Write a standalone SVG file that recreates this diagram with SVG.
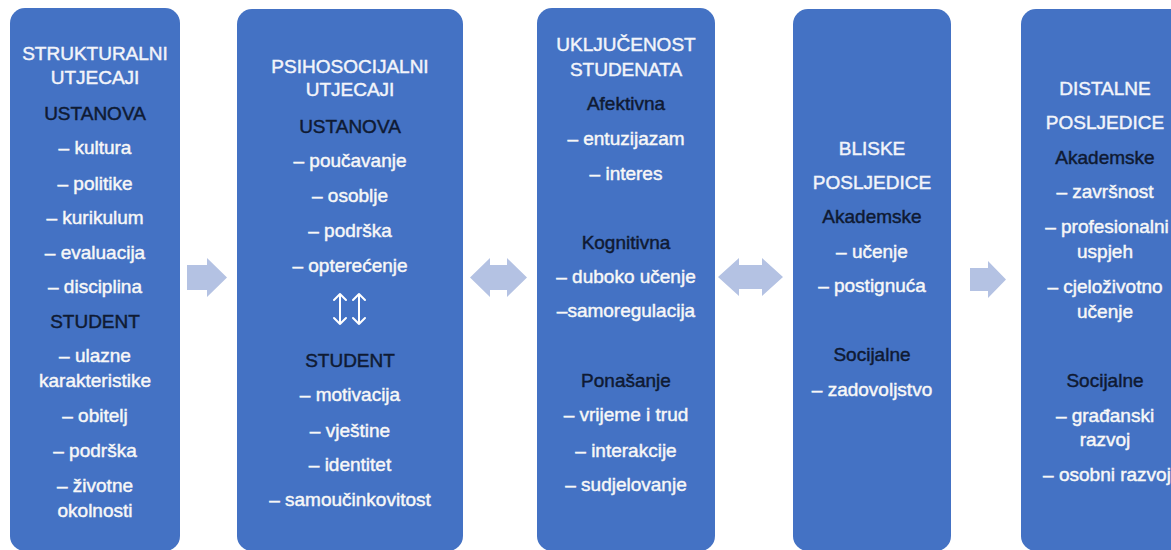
<svg xmlns="http://www.w3.org/2000/svg" width="1171" height="550" viewBox="0 0 1171 550">
<style>
.box{fill:#4472C4}
text{font-family:"Liberation Sans",Arial,sans-serif;font-size:19px;text-anchor:middle;stroke-width:0.45px}
.t{fill:#F2F4FA;stroke:#F2F4FA}
.i{fill:#F7F7F7;stroke:#F7F7F7}
.h{fill:#0F1A33;stroke:#0F1A33}
.ar{fill:#B4C2E3}
.sm{stroke:#FFFFFF;stroke-width:2;fill:none;stroke-linecap:round;stroke-linejoin:round}
</style>
<rect width="1171" height="550" fill="#FFFFFF"/>
<g id="connectors">
<polygon class="ar" points="187,265 207,265 207,258 227,277.5 207,297 207,290 187,290"/>
<polygon class="ar" points="470,277.5 490,258 490,265 507,265 507,258 527,277.5 507,297 507,290 490,290 490,297"/>
<polygon class="ar" points="718,277 739,258 739,265 762,265 762,258 783,277 762,296 762,289 739,289 739,296"/>
<polygon class="ar" points="970,268 988,268 988,261 1006,279.5 988,298 988,291 970,291"/>
</g>
<g id="node1">
<rect class="box" x="10" y="8" width="170" height="543" rx="15"/>
<text class="t" x="95" y="60">STRUKTURALNI</text>
<text class="t" x="95" y="84">UTJECAJI</text>
<text class="h" x="95" y="120">USTANOVA</text>
<text class="i" x="95" y="154">– kultura</text>
<text class="i" x="95" y="190">– politike</text>
<text class="i" x="95" y="224">– kurikulum</text>
<text class="i" x="95" y="259">– evaluacija</text>
<text class="i" x="95" y="293">– disciplina</text>
<text class="h" x="95" y="328">STUDENT</text>
<text class="i" x="95" y="362">– ulazne</text>
<text class="i" x="95" y="387">karakteristike</text>
<text class="i" x="95" y="422">– obitelj</text>
<text class="i" x="95" y="457">– podrška</text>
<text class="i" x="95" y="492">– životne</text>
<text class="i" x="95" y="517">okolnosti</text>
</g>
<g id="node2">
<rect class="box" x="237" y="9" width="226" height="542" rx="15"/>
<text class="t" x="350" y="73">PSIHOSOCIJALNI</text>
<text class="t" x="350" y="96">UTJECAJI</text>
<text class="h" x="350" y="133">USTANOVA</text>
<text class="i" x="350" y="167">– poučavanje</text>
<text class="i" x="350" y="202">– osoblje</text>
<text class="i" x="350" y="237">– podrška</text>
<text class="i" x="350" y="272">– opterećenje</text>
<path class="sm" d="M340,294 V324 M334,300 L340,294 L346,300 M334,318 L340,324 L346,318"/>
<path class="sm" d="M359,294 V324 M353,300 L359,294 L365,300 M353,318 L359,324 L365,318"/>
<text class="h" x="350" y="367">STUDENT</text>
<text class="i" x="350" y="401">– motivacija</text>
<text class="i" x="350" y="437">– vještine</text>
<text class="i" x="350" y="471">– identitet</text>
<text class="i" x="350" y="506">– samoučinkovitost</text>
</g>
<g id="node3">
<rect class="box" x="537" y="8" width="178" height="543" rx="15"/>
<text class="t" x="626" y="51">UKLJUČENOST</text>
<text class="t" x="626" y="76">STUDENATA</text>
<text class="h" x="626" y="110">Afektivna</text>
<text class="i" x="626" y="145">– entuzijazam</text>
<text class="i" x="626" y="180">– interes</text>
<text class="h" x="626" y="249">Kognitivna</text>
<text class="i" x="626" y="283">– duboko učenje</text>
<text class="i" x="626" y="317">–samoregulacija</text>
<text class="h" x="626" y="387">Ponašanje</text>
<text class="i" x="626" y="421">– vrijeme i trud</text>
<text class="i" x="626" y="457">– interakcije</text>
<text class="i" x="626" y="491">– sudjelovanje</text>
</g>
<g id="node4">
<rect class="box" x="793" y="9" width="158" height="542" rx="15"/>
<text class="t" x="872" y="155">BLISKE</text>
<text class="t" x="872" y="189">POSLJEDICE</text>
<text class="h" x="872" y="223">Akademske</text>
<text class="i" x="872" y="258">– učenje</text>
<text class="i" x="872" y="292">– postignuća</text>
<text class="h" x="872" y="361">Socijalne</text>
<text class="i" x="872" y="396">– zadovoljstvo</text>
</g>
<g id="node5">
<rect class="box" x="1021" y="9" width="170" height="542" rx="15"/>
<text class="t" x="1105" y="95">DISTALNE</text>
<text class="t" x="1105" y="129">POSLJEDICE</text>
<text class="h" x="1105" y="164">Akademske</text>
<text class="i" x="1105" y="198">– završnost</text>
<text class="i" x="1107" y="233">– profesionalni</text>
<text class="i" x="1105" y="258">uspjeh</text>
<text class="i" x="1105" y="293">– cjeloživotno</text>
<text class="i" x="1105" y="318">učenje</text>
<text class="h" x="1105" y="387">Socijalne</text>
<text class="i" x="1105" y="422">– građanski</text>
<text class="i" x="1105" y="446">razvoj</text>
<text class="i" x="1107" y="481">– osobni razvoj</text>
</g>
</svg>
